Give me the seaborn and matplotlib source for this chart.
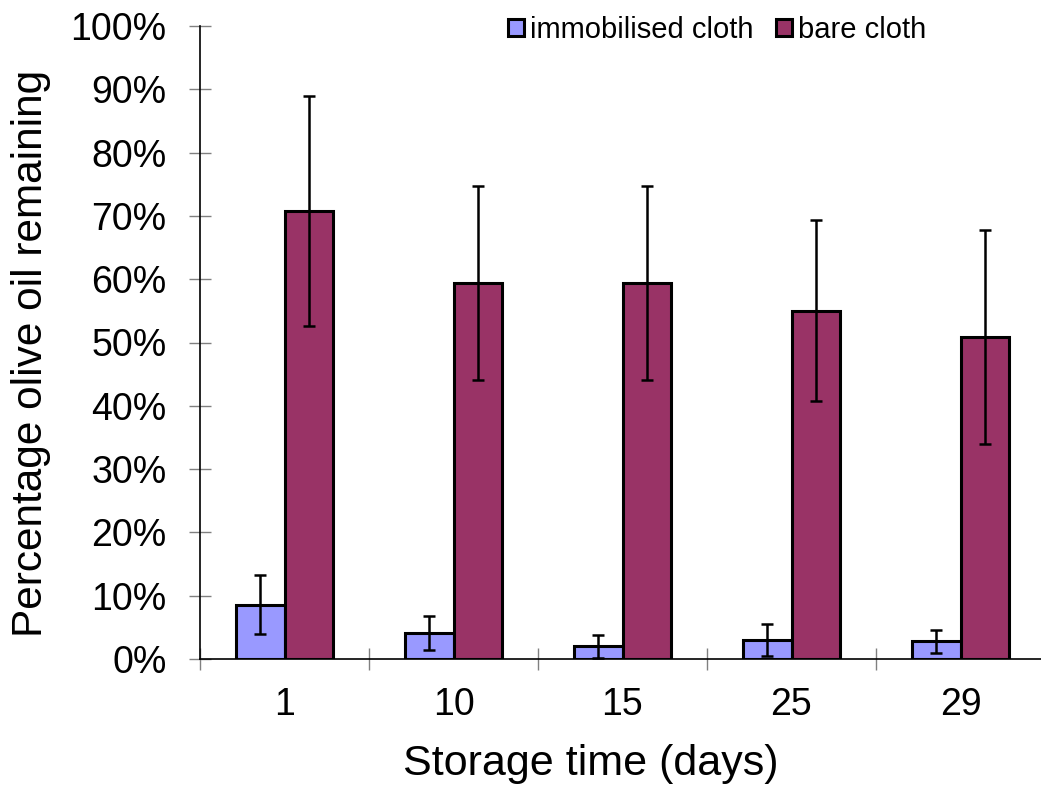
import matplotlib
matplotlib.use("Agg")
import matplotlib.pyplot as plt
import seaborn as sns
import pandas as pd
import numpy as np
from matplotlib.ticker import FuncFormatter, FixedLocator
from matplotlib.patches import Patch

days = ["1", "10", "15", "25", "29"]
series = ["immobilised cloth", "bare cloth"]
immobilised = [8.6, 4.1, 2.0, 3.0, 2.8]
immobilised_err = [4.7, 2.7, 1.8, 2.5, 1.8]
bare = [70.8, 59.4, 59.4, 55.0, 50.9]
bare_err = [18.2, 15.3, 15.3, 14.3, 16.9]
colors = ["#9999FF", "#993366"]

df = pd.DataFrame({
    "day": days * 2,
    "series": [series[0]] * len(days) + [series[1]] * len(days),
    "value": immobilised + bare,
    "err": immobilised_err + bare_err,
})

sns.set_theme(style="white")
plt.rcParams["font.family"] = ["Liberation Sans", "DejaVu Sans"]
plt.rcParams["text.color"] = "black"
plt.rcParams["axes.labelcolor"] = "black"
plt.rcParams["xtick.labelcolor"] = "black"
plt.rcParams["ytick.labelcolor"] = "black"

fig = plt.figure(figsize=(10.41, 7.92), dpi=100)
ax = fig.add_axes([200/1041, 1 - 659/792, 845/1041, 633/792])

sns.barplot(data=df, x="day", y="value", hue="series", order=days,
            hue_order=series, palette=colors, width=0.57, gap=0,
            edgecolor="black", linewidth=2.2, saturation=1,
            errorbar=None, legend=False, ax=ax)

# error bars at bar centres
for i, s in enumerate(series):
    sub = df[df.series == s].set_index("day").loc[days]
    bars = ax.patches[i*len(days):(i+1)*len(days)]
    xs = [b.get_x() + b.get_width()/2 for b in bars]
    ax.errorbar(xs, sub["value"].values, yerr=sub["err"].values, fmt="none",
                ecolor="black", elinewidth=1.8, capsize=4.3, capthick=1.8, zorder=5)

ax.set_xlim(-0.5, 4.5)
ax.set_ylim(0, 100)
ax.yaxis.set_major_locator(FixedLocator(np.arange(0, 101, 10)))
ax.yaxis.set_major_formatter(FuncFormatter(lambda v, p: f"{int(round(v))}%"))
ax.xaxis.set_minor_locator(FixedLocator(np.arange(-0.5, 4.6, 1)))

for sp in ["top", "right"]:
    ax.spines[sp].set_visible(False)
for sp in ["left", "bottom"]:
    ax.spines[sp].set_color("black")
    ax.spines[sp].set_linewidth(1.2)

ax.tick_params(axis="y", which="major", direction="inout", length=16, width=1,
               color="#808080", labelsize=27, pad=16, left=True, labelcolor="black")
ax.tick_params(axis="x", which="major", length=0, labelsize=27, pad=20, labelcolor="black")
ax.tick_params(axis="x", which="minor", direction="inout", length=16, width=1,
               color="#808080", bottom=True)

ax.set_xlabel("Storage time (days)", fontsize=31, labelpad=15, color="black")
ax.set_ylabel("Percentage olive oil remaining", fontsize=30.5, labelpad=14, color="black")
ax.xaxis.label.set_x(0.4627)
ax.yaxis.label.set_y(0.4826)

handles = [Patch(facecolor=c, edgecolor="black", linewidth=2.2) for c in colors]
ax.legend(handles, series, loc="center", bbox_to_anchor=(0.612, 0.994), ncol=2,
          frameon=False, fontsize=21, handlelength=0.55, handleheight=0.55,
          handletextpad=0.2, columnspacing=0.8, borderaxespad=0)

fig.savefig("out.png", dpi=100)
